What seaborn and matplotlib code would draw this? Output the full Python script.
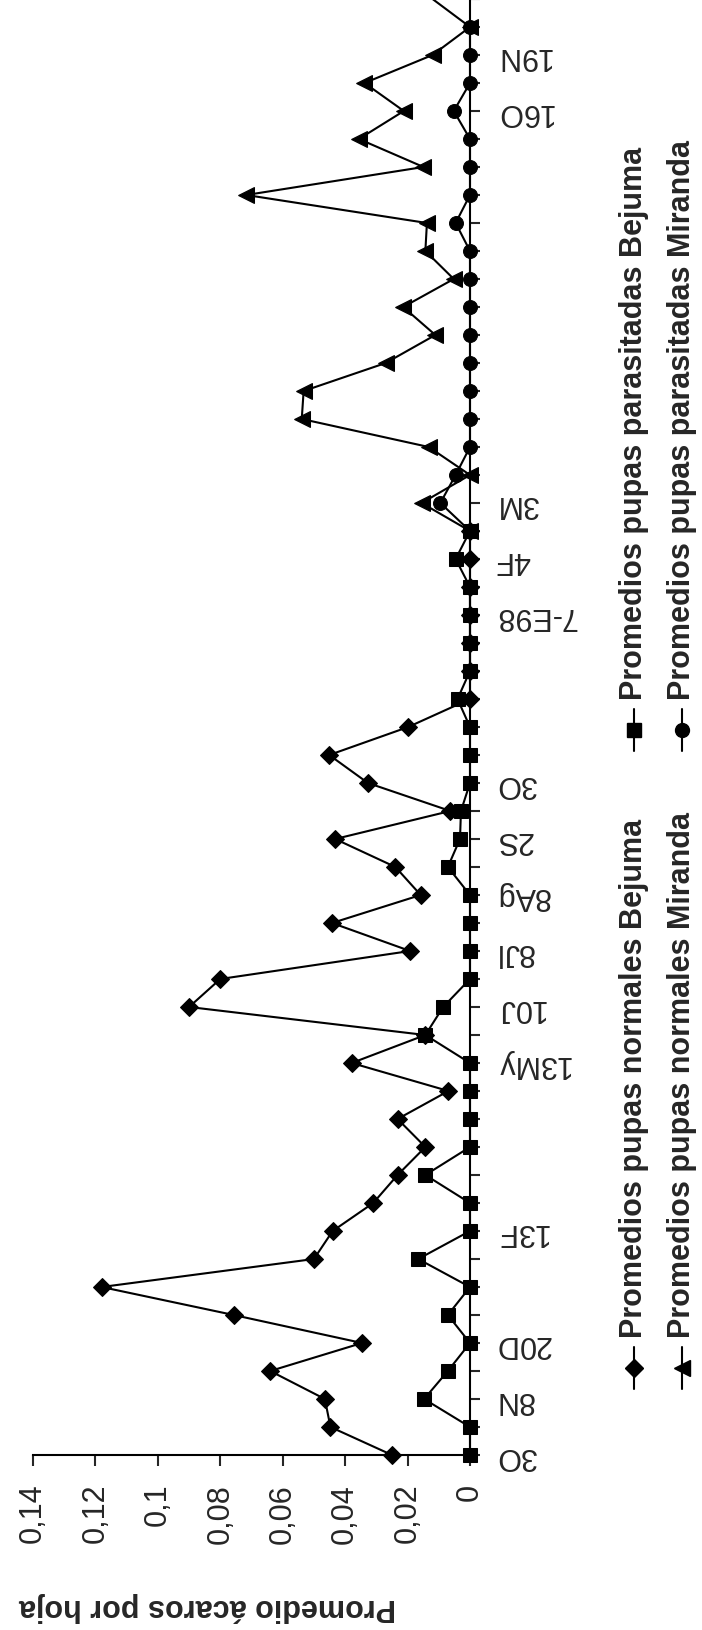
import numpy as np
import pandas as pd
import matplotlib
matplotlib.use("Agg")
import matplotlib.pyplot as plt
from matplotlib.lines import Line2D
import seaborn as sns

# category labels on the date axis ('' = tick without label)
fechas = ["3O", "", "8N", "", "20D", "", "", "", "13F", "",
          "", "", "", "", "13My", "", "10J", "", "8Jl", "",
          "8Ag", "", "2S", "", "3O", "", "", "", "", "",
          "7-E98", "", "4F", "", "3M", "", "", "", "", "",
          "", "", "", "", "", "", "", "", "16O", "",
          "19N", "", ""]

# Bejuma series (first 34 sampling dates)
normales_bejuma = [0.025, 0.0447, 0.0465, 0.064, 0.0346, 0.0757, 0.118, 0.050, 0.044, 0.031,
                   0.0232, 0.0143, 0.0232, 0.0069, 0.0379, 0.0143, 0.090, 0.080,
                   0.0192, 0.0442, 0.0158, 0.0239, 0.0432, 0.0063, 0.0327, 0.0451, 0.0198,
                   0, 0, 0, 0, 0, 0, 0]
parasitadas_bejuma = [0, 0, 0.0147, 0.0071, 0, 0.0071, 0, 0.0166, 0, 0,
                      0.0143, 0, 0, 0, 0, 0.0143, 0.0086, 0,
                      0, 0, 0, 0.0071, 0.0032, 0.0029, 0, 0, 0,
                      0.004, 0, 0, 0, 0, 0.0046, 0]

# Miranda series (from the 34th sampling date on; last point lies past the page edge)
normales_miranda = [0, 0.0155, 0, 0.0132, 0.0539, 0.0533, 0.027, 0.0111, 0.0214, 0.0052,
                    0.0143, 0.0138, 0.0717, 0.0149, 0.0356, 0.0212, 0.0338, 0.012, 0, 0.012]
parasitadas_miranda = [0, 0.0095, 0.0046, 0, 0, 0, 0, 0, 0, 0,
                       0, 0.0046, 0, 0, 0, 0.0052, 0, 0, 0]

n = len(fechas)
inicio_miranda = len(normales_bejuma) - 1


def columna(vals, start):
    out = [np.nan] * n
    out[start:start + len(vals)] = vals
    return out


df = pd.DataFrame({
    "idx": np.arange(n),
    "Promedios pupas normales Bejuma": columna(normales_bejuma, 0),
    "Promedios pupas parasitadas Bejuma": columna(parasitadas_bejuma, 0),
    "Promedios pupas normales Miranda": columna(normales_miranda, inicio_miranda),
    "Promedios pupas parasitadas Miranda": columna(parasitadas_miranda, inicio_miranda),
})

sns.set_style("white")
plt.rcParams['font.family'] = ['Liberation Sans', 'DejaVu Sans']

W, H = 702, 1631
fig = plt.figure(figsize=(W / 100, H / 100), dpi=100)


def fx(px):
    return px / W


def fy(py):
    return 1 - py / H


x0, x14, ybase = 470, 33, 1456
ax = fig.add_axes([fx(x14), fy(ybase), (x0 - x14) / W, ybase / H])
ymax = ybase / 28.137

series = [
    ("Promedios pupas normales Bejuma", "D", 9),
    ("Promedios pupas parasitadas Bejuma", "s", 10),
    ("Promedios pupas normales Miranda", "<", 11),
    ("Promedios pupas parasitadas Miranda", "o", 10),
]
for name, mk, ms in series:
    sub = df[["idx", name]].dropna()
    visibles = [i for i, v in enumerate(sub["idx"]) if v <= ymax]
    sns.lineplot(data=sub, x=name, y="idx", orient="y", estimator=None, sort=True,
                 color="black", lw=1.5, marker=mk, markersize=ms, markevery=visibles,
                 markeredgecolor="black", clip_on=False, ax=ax, legend=False)

ax.set_xlim(0.14, 0)
ax.set_ylim(0, ymax)

xt = np.arange(0, 0.141, 0.02)
ax.set_xticks(xt)
ax.set_xticklabels(["0" if v == 0 else f"{v:g}".replace(".", ",") for v in np.round(xt, 2)],
                   rotation=90, fontsize=22)
ax.yaxis.tick_right()
ax.set_yticks(np.arange(n))
ax.set_yticklabels(fechas, rotation=180, fontsize=22, va="center")
ax.tick_params(axis="x", direction="out", length=8, width=1.5, pad=12, bottom=True)
ax.tick_params(axis="y", direction="out", length=7, width=1.5, pad=11, right=True)
ax.set_xlabel("")
ax.set_ylabel("")
for s in ["left", "top"]:
    ax.spines[s].set_visible(False)
for s in ["right", "bottom"]:
    ax.spines[s].set_linewidth(1.5)
    ax.spines[s].set_color("black")

fig.text(fx(207), fy(1607), "Promedio ácaros por hoja", rotation=180,
         ha="center", va="center", fontsize=22, fontweight="bold")

# legend, drawn rotated like the rest of the page
leg = [
    (series[0], 634, 1369, 1338),
    (series[2], 682, 1369, 1338),
    (series[1], 634, 731, 700),
    (series[3], 682, 731, 700),
]
for (name, mk, ms), lx, ly, ty in leg:
    fig.add_artist(Line2D([fx(lx), fx(lx)], [fy(ly - 21), fy(ly + 21)], color="black",
                          lw=1.5, transform=fig.transFigure))
    fig.add_artist(Line2D([fx(lx)], [fy(ly)], color="black", marker=mk, markersize=ms,
                          transform=fig.transFigure))
    fig.text(fx(lx), fy(ty), name, rotation=90, ha="center", va="bottom",
             fontsize=22, fontweight="bold")

fig.savefig("out.png", dpi=100)
